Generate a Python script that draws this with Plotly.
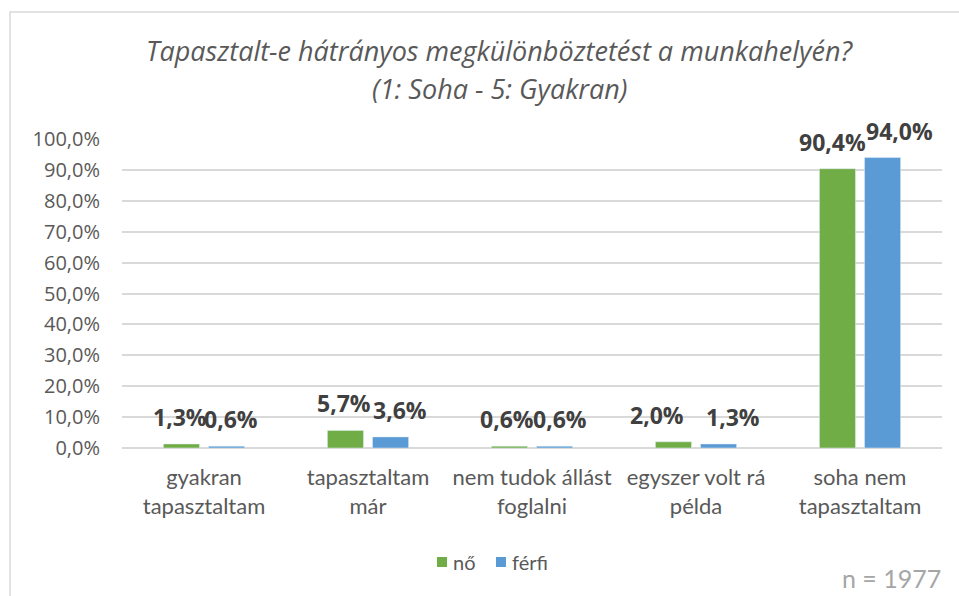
import plotly.graph_objects as go

categories = [
    "gyakran<br>tapasztaltam",
    "tapasztaltam<br>már",
    "nem tudok állást<br>foglalni",
    "egyszer volt rá<br>példa",
    "soha nem<br>tapasztaltam",
]
no_values = [0.013, 0.057, 0.006, 0.020, 0.904]
ferfi_values = [0.006, 0.036, 0.006, 0.013, 0.940]
series_names = ["nő", "férfi"]
y_ticks = [i / 10 for i in range(11)]
title_lines = ["Tapasztalt-e hátrányos megkülönböztetést a munkahelyén?",
               "(1: Soha - 5: Gyakran)"]
sample_note = "n = 1977"

GREEN = "#70ad47"
BLUE = "#5b9bd5"
GRID = "#d9d9d9"
TEXT = "#595959"
LABEL = "#404040"

# horizontal nudges (px) of the value labels so neighbours don't collide
no_label_nudge = [-1, -1, -2, -16, -5]
ferfi_label_nudge = [4, 9, 5, 14, 17]

W, H = 959, 596
L, R, T, B = 122, 17, 139, 148
PW, PH = W - L - R, H - T - B
BARGAP = 0.45
# centre of each bar of the pair relative to its category
BAR_OFFSET = (1 - BARGAP) / 4


def px_x(x):
    return (x - L) / PW


def px_y(y):
    return (H - B - y) / PH


def pct(v):
    return f"{v * 100:.1f}%".replace(".", ",")


fig = go.Figure()
fig.add_trace(go.Bar(x=categories, y=no_values, name=series_names[0],
                     marker_color=GREEN, offsetgroup="0", showlegend=False))
fig.add_trace(go.Bar(x=categories, y=ferfi_values, name=series_names[1],
                     marker_color=BLUE, offsetgroup="1", showlegend=False))

annotations = []
shapes = []

# value labels above each bar
for i in range(len(categories)):
    for vals, shift, nudge in ((no_values, -BAR_OFFSET, no_label_nudge),
                               (ferfi_values, BAR_OFFSET, ferfi_label_nudge)):
        annotations.append(dict(
            x=i + shift, y=vals[i], xref="x", yref="y",
            text=f"<b>{pct(vals[i])}</b>", showarrow=False,
            yanchor="middle", yshift=27, xshift=nudge[i],
            font=dict(family="Open Sans", size=23, color=LABEL),
        ))

# legend: coloured squares followed by the series names
legend_y = 562
for name, color, sq_x in zip(series_names, (GREEN, BLUE), (437, 496)):
    shapes.append(dict(type="rect", xref="paper", yref="paper",
                       x0=px_x(sq_x), x1=px_x(sq_x + 10),
                       y0=px_y(legend_y + 5), y1=px_y(legend_y - 5),
                       fillcolor=color, line=dict(width=0)))
    annotations.append(dict(
        x=px_x(sq_x + 14), y=px_y(legend_y), xref="paper", yref="paper",
        xanchor="left", yanchor="middle", text=name, showarrow=False,
        font=dict(family="Lato", size=20, color=TEXT),
    ))

annotations.append(dict(
    x=px_x(943), y=px_y(578), xref="paper", yref="paper",
    xanchor="right", yanchor="middle", text=sample_note, showarrow=False,
    font=dict(family="Lato", size=25, color="#a6a6a6"),
))

for line, ypix in zip(title_lines, (50, 88)):
    annotations.append(dict(
        x=px_x(500), y=px_y(ypix), xref="paper", yref="paper",
        xanchor="center", yanchor="middle", text=f"<i>{line}</i>",
        showarrow=False,
        font=dict(family="Open Sans", size=27, color=TEXT),
    ))

# chart-area frame
shapes.append(dict(type="rect", xref="paper", yref="paper",
                   x0=px_x(10), x1=1.5, y0=-1, y1=px_y(12),
                   line=dict(color=GRID, width=1.5), layer="below"))

fig.update_layout(
    width=W, height=H,
    margin=dict(l=L, r=R, t=T, b=B, pad=0),
    paper_bgcolor="white", plot_bgcolor="white",
    barmode="group", bargap=BARGAP, bargroupgap=0.2,
    separators=", ",
    showlegend=False,
    annotations=annotations,
    shapes=shapes,
)

fig.update_xaxes(
    range=[-0.5, len(categories) - 0.5], autorange=False,
    tickfont=dict(family="Lato", size=22, color=TEXT),
    showline=False, ticks="outside", ticklen=10, tickcolor="rgba(0,0,0,0)",
    showgrid=False,
)
fig.update_yaxes(
    range=[0, 1.0], autorange=False, tickvals=y_ticks, tickformat=".1%",
    tickfont=dict(family="Open Sans", size=20, color=TEXT),
    showgrid=True, gridcolor=GRID, gridwidth=1.5,
    zeroline=True, zerolinecolor=GRID, zerolinewidth=1.5,
    showline=False, ticks="outside", ticklen=17, tickcolor="rgba(0,0,0,0)",
)

fig.write_html("out.html")
